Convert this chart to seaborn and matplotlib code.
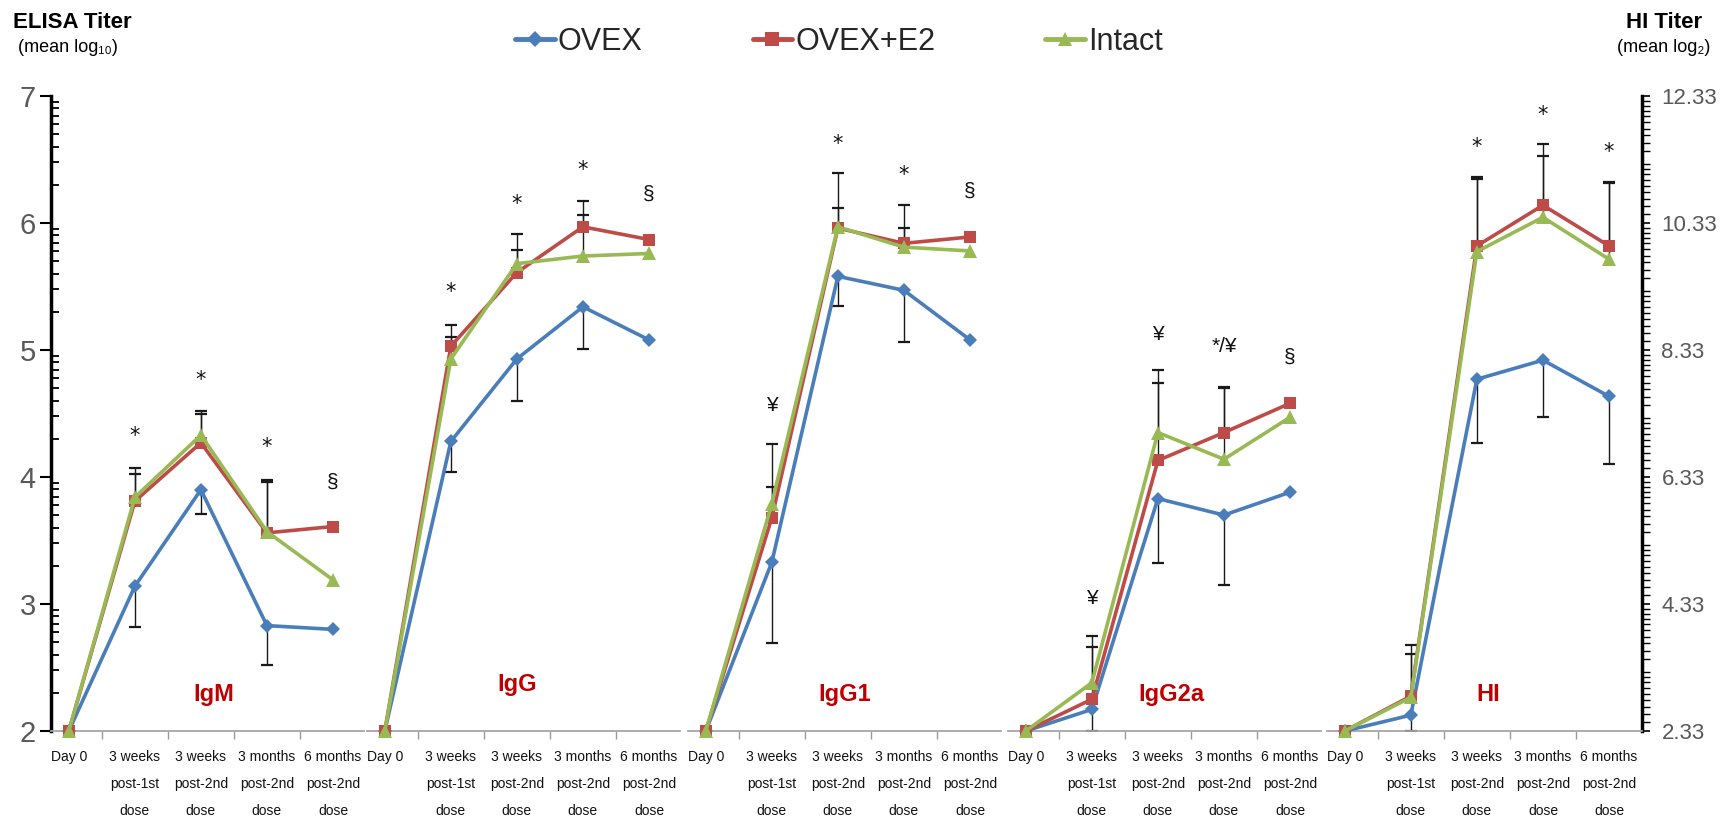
import numpy as np
import pandas as pd
import matplotlib
matplotlib.use("Agg")
import matplotlib.pyplot as plt
from matplotlib import font_manager as fm
from matplotlib.lines import Line2D
import seaborn as sns

# ---------------------------------------------------------------- data
timepoints = ["Day 0", "3 weeks\npost-1st\ndose", "3 weeks\npost-2nd\ndose",
              "3 months\npost-2nd\ndose", "6 months\npost-2nd\ndose"]
groups = ["OVEX", "OVEX+E2", "Intact"]
panels = ["IgM", "IgG", "IgG1", "IgG2a", "HI"]

# mean titers (ELISA panels: log10, HI panel: log2)
igm_ovex   = [2.0, 3.14, 3.90, 2.83, 2.80]
igm_e2     = [2.0, 3.81, 4.27, 3.56, 3.61]
igm_intact = [2.0, 3.84, 4.33, 3.57, 3.19]

igg_ovex   = [2.0, 4.28, 4.93, 5.34, 5.08]
igg_e2     = [2.0, 5.03, 5.61, 5.97, 5.87]
igg_intact = [2.0, 4.93, 5.68, 5.74, 5.76]

igg1_ovex   = [2.0, 3.33, 5.58, 5.47, 5.08]
igg1_e2     = [2.0, 3.68, 5.96, 5.84, 5.89]
igg1_intact = [2.0, 3.79, 5.97, 5.81, 5.78]

igg2a_ovex   = [2.0, 2.17, 3.83, 3.70, 3.88]
igg2a_e2     = [2.0, 2.25, 4.13, 4.35, 4.58]
igg2a_intact = [2.0, 2.38, 4.35, 4.14, 4.47]

hi_ovex   = [2.33, 2.58, 7.87, 8.17, 7.60]
hi_e2     = [2.33, 2.88, 9.97, 10.61, 9.97]
hi_intact = [2.33, 2.86, 9.88, 10.42, 9.76]

# error bars: OVEX drawn downwards, OVEX+E2 and Intact upwards
igm_ovex_err   = [0, 0.32, 0.19, 0.31, 0]
igm_e2_err     = [0, 0.26, 0.25, 0.42, 0]
igm_intact_err = [0, 0.18, 0.17, 0.39, 0]

igg_ovex_err   = [0, 0.24, 0.33, 0.33, 0]
igg_e2_err     = [0, 0.17, 0.30, 0.20, 0]
igg_intact_err = [0, 0.17, 0.11, 0.32, 0]

igg1_ovex_err   = [0, 0.64, 0.23, 0.41, 0]
igg1_e2_err     = [0, 0.24, 0.43, 0.30, 0]
igg1_intact_err = [0, 0.47, 0.15, 0.15, 0]

igg2a_ovex_err   = [0, 0.17, 0.51, 0.55, 0]
igg2a_e2_err     = [0, 0.41, 0.61, 0.36, 0]
igg2a_intact_err = [0, 0.37, 0.49, 0.56, 0]

hi_ovex_err   = [0, 0.25, 1.00, 0.90, 1.07]
hi_e2_err     = [0, 0.81, 1.09, 0.96, 1.00]
hi_intact_err = [0, 0.68, 1.15, 0.97, 1.20]

# significance marks and the height they are written at
igm_sig   = ["", "*", "*", "*", "\u00a7"]
igm_sig_y = [0, 4.32, 4.76, 4.24, 3.96]
igg_sig   = ["", "*", "*", "*", "\u00a7"]
igg_sig_y = [0, 5.46, 6.15, 6.42, 6.23]
igg1_sig   = ["", "\u00a5", "*", "*", "\u00a7"]
igg1_sig_y = [0, 4.56, 6.62, 6.38, 6.25]
igg2a_sig   = ["", "\u00a5", "\u00a5", "*/\u00a5", "\u00a7"]
igg2a_sig_y = [0, 3.04, 5.12, 5.03, 4.94]
hi_sig   = ["", "", "*", "*", "*"]
hi_sig_y = [0, 0, 11.53, 12.03, 11.45]

# ---------------------------------------------------------------- style
sns.set_theme(style="white")
names = {f.name for f in fm.fontManager.ttflist}
narrow = "Liberation Sans Narrow" if "Liberation Sans Narrow" in names else "Liberation Sans"
plt.rcParams["font.family"] = [narrow, "DejaVu Sans"]

colors = {"OVEX": "#4A7EBB", "OVEX+E2": "#BE4B48", "Intact": "#98B954"}
markers = {"OVEX": "D", "OVEX+E2": "s", "Intact": "^"}
msizes = {"OVEX": 7.5, "OVEX+E2": 8.5, "Intact": 9.5}

means = {
    "IgM": [igm_ovex, igm_e2, igm_intact],
    "IgG": [igg_ovex, igg_e2, igg_intact],
    "IgG1": [igg1_ovex, igg1_e2, igg1_intact],
    "IgG2a": [igg2a_ovex, igg2a_e2, igg2a_intact],
    "HI": [hi_ovex, hi_e2, hi_intact],
}
errs = {
    "IgM": [igm_ovex_err, igm_e2_err, igm_intact_err],
    "IgG": [igg_ovex_err, igg_e2_err, igg_intact_err],
    "IgG1": [igg1_ovex_err, igg1_e2_err, igg1_intact_err],
    "IgG2a": [igg2a_ovex_err, igg2a_e2_err, igg2a_intact_err],
    "HI": [hi_ovex_err, hi_e2_err, hi_intact_err],
}
sigs = {
    "IgM": (igm_sig, igm_sig_y), "IgG": (igg_sig, igg_sig_y),
    "IgG1": (igg1_sig, igg1_sig_y), "IgG2a": (igg2a_sig, igg2a_sig_y),
    "HI": (hi_sig, hi_sig_y),
}
label_x = {"IgM": 2.2, "IgG": 2.0, "IgG1": 2.1, "IgG2a": 2.2, "HI": 2.17}
label_y = {"IgM": 2.29, "IgG": 2.37, "IgG1": 2.29, "IgG2a": 2.29, "HI": 2.91}

W, H = 1726, 832
fig = plt.figure(figsize=(W / 100, H / 100), dpi=100)

# panel placement in pixels
lefts = [51, 367, 688, 1008, 1327]
widths = [313, 313, 313, 313, 315]
bottom = (H - 731) / H
height = (731 - 96) / H

pos = np.arange(len(timepoints))
axes = []
for i, name in enumerate(panels):
    ax = fig.add_axes([lefts[i] / W, bottom, widths[i] / W, height])
    axes.append(ax)
    is_hi = name == "HI"
    ax.set_xlim(-0.27, 4.47 if not is_hi else 4.5)
    ax.set_ylim((2.33, 12.33) if is_hi else (2, 7))

    # error bars (behind the lines)
    for g, vals, e in zip(groups, means[name], errs[name]):
        vals = np.asarray(vals)
        e = np.asarray(e)
        m = e > 0
        sign = -1 if g == "OVEX" else 1
        ends = vals + sign * e
        ax.vlines(pos[m], vals[m], ends[m], color="#1a1a1a", lw=1.0, zorder=1)
        ax.plot(pos[m], ends[m], ls="none", marker="_", ms=8, mew=1.6,
                color="#1a1a1a", zorder=1)

    # mean lines
    for g, vals in zip(groups, means[name]):
        df = pd.DataFrame({"time": pos, "titer": vals})
        sns.lineplot(data=df, x="time", y="titer", ax=ax, color=colors[g],
                     marker=markers[g], markersize=msizes[g], markeredgewidth=0,
                     linewidth=2.6, clip_on=False, sort=False, errorbar=None,
                     zorder=3)

    # significance marks
    s_txt, s_y = sigs[name]
    for x, t, y in zip(pos, s_txt, s_y):
        if t:
            ax.text(x, y, t, ha="center", va="center", fontsize=15,
                    color="#111111", family=["DejaVu Sans"] if t == "*" else None)

    ax.text(label_x[name], label_y[name], name, ha="center", va="center",
            fontsize=17, fontweight="bold", color="#C00000",
            family=["Liberation Sans", "DejaVu Sans"])

    ax.set_xlabel("")
    ax.set_ylabel("")
    ax.set_xticks(pos)
    ax.set_xticklabels(timepoints, fontsize=10, linespacing=2.15, color="#111111")
    ax.set_xticks(pos[:-1] + 0.5, minor=True)
    ax.tick_params(axis="x", which="major", length=0, pad=14)
    ax.tick_params(axis="x", which="minor", length=6, width=1, color="#9a9a9a",
                   direction="out", bottom=True)
    for sp in ["top", "left", "right"]:
        ax.spines[sp].set_visible(False)
    ax.spines["bottom"].set_color("#a6a6a6")
    ax.spines["bottom"].set_linewidth(1.3)
    ax.set_yticks([])

# ELISA axis (left)
ax0 = axes[0]
ax0.spines["left"].set_visible(True)
ax0.spines["left"].set_color("black")
ax0.spines["left"].set_linewidth(2.5)
ax0.set_yticks(np.arange(2, 8))
ax0.set_yticklabels([str(v) for v in range(2, 8)])
ax0.set_yticks([n + np.log10(k) for n in range(2, 7) for k in range(2, 10)], minor=True)
ax0.tick_params(axis="y", which="major", left=True, length=8, width=1.5,
                color="black", direction="out", labelsize=21, labelcolor="#595959", pad=3)
ax0.tick_params(axis="y", which="minor", left=True, length=6, width=1.3,
                color="black", direction="in")

# HI axis (right)
ax5 = axes[-1]
ax5.spines["right"].set_visible(True)
ax5.spines["right"].set_color("black")
ax5.spines["right"].set_linewidth(2.5)
ax5.yaxis.tick_right()
hi_ticks = np.arange(2.33, 12.34, 2)
ax5.set_yticks(hi_ticks)
ax5.set_yticklabels([f"{v:.2f}" for v in hi_ticks])
ax5.set_yticks([2.33 + n + np.log2(1 + j / 10) for n in range(10) for j in range(1, 10)],
               minor=True)
ax5.tick_params(axis="y", which="major", right=True, left=False, length=6, width=1.2,
                color="black", direction="out", labelsize=16, labelcolor="#595959", pad=8)
ax5.tick_params(axis="y", which="minor", right=True, left=False, length=6, width=1.0,
                color="black", direction="out")

# axis titles
fig.text(72 / W, 1 - 22 / H, "ELISA Titer", ha="center", va="center",
         fontsize=16, fontweight="bold", color="black")
fig.text(68 / W, 1 - 48 / H, "(mean log\u2081\u2080)", ha="center", va="center",
         fontsize=13, color="black")
fig.text(1664 / W, 1 - 22 / H, "HI Titer", ha="center", va="center",
         fontsize=16, fontweight="bold", color="black")
fig.text(1664 / W, 1 - 48 / H, "(mean log\u2082)", ha="center", va="center",
         fontsize=13, color="black")

# legend
handles = [Line2D([], [], color=colors[g], marker=markers[g], markersize=msizes[g] + 1,
                  markeredgewidth=0, linewidth=3.5) for g in groups]
fig.legend(handles, groups, loc="center", bbox_to_anchor=(0.486, 1 - 42 / H),
           ncol=3, frameon=False, fontsize=22, handlelength=1.3,
           handletextpad=0.1, columnspacing=3.6)

fig.savefig("out.png", dpi=100)
